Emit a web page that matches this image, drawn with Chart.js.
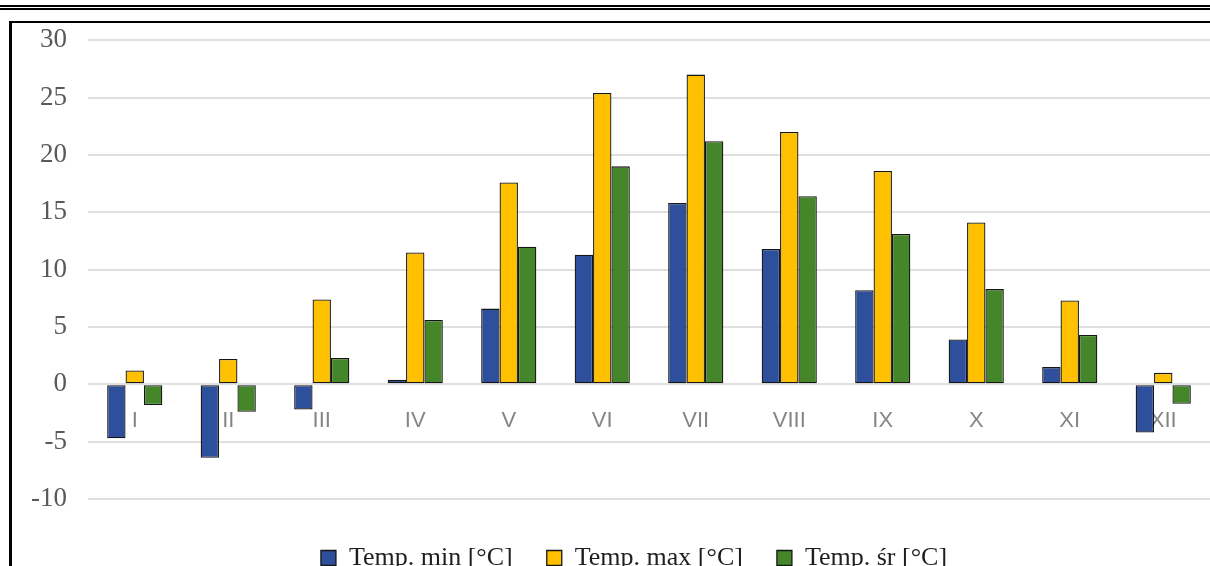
<!DOCTYPE html>
<html>
<head>
<meta charset="utf-8">
<script src="https://cdn.jsdelivr.net/npm/chart.js@4/dist/chart.umd.min.js"></script>
<style>
html,body{margin:0;padding:0;background:#fff;overflow:hidden;width:1210px;height:566px}
.rule1{position:absolute;left:0;top:5px;width:1210px;height:2px;background:#000}
.rule2{position:absolute;left:0;top:8px;width:1210px;height:2px;background:#000}
.frame{position:absolute;left:9px;top:21px;width:1300px;height:700px;border-left:3px solid #000;border-top:2px solid #000}
#wrap{position:absolute;left:12px;top:3px;width:1198px;height:566px}
</style>
</head>
<body>
<div class="rule1"></div>
<div class="rule2"></div>
<div class="frame"></div>
<div id="wrap"><canvas id="chart"></canvas></div>

<script>

const months = ["I","II","III","IV","V","VI","VII","VIII","IX","X","XI","XII"]

const tempMin = [-4.7, -6.4, -2.2, 0.4, 6.6, 11.3, 15.8, 11.8, 8.2, 3.9, 1.5, -4.2]
const tempMax = [1.2, 2.2, 7.4, 11.5, 17.6, 25.4, 27.0, 22.0, 18.6, 14.1, 7.3, 1.0]
const tempAvg = [-1.8, -2.4, 2.3, 5.6, 12.0, 19.0, 21.2, 16.4, 13.1, 8.3, 4.3, -1.7]

const seriesNames = ["Temp. min [°C]", "Temp. max [°C]", "Temp. śr [°C]"]

const yMin = -10
const yMax = 30
const yStep = 5


function barSet(label, values, color){
return {
label: label,
data: values,
backgroundColor: color,
borderColor: "#161616",
borderWidth: 1.3,
borderSkipped: false,
barPercentage: 1,
categoryPercentage: 0.59
}
}

// legend sits lower and a bit right of the canvas centre in the original
const legendShift = {
id: "legendShift",
afterLayout(chart){
chart.legend.left += 23
chart.legend.right += 23
chart.legend.top += 12
chart.legend.bottom += 12
}
}

const ctx = document.getElementById("chart").getContext("2d")

new Chart(ctx, {
type: "bar",
data: {
labels: months,
datasets: [
barSet(seriesNames[0], tempMin, "#2E4F9C"),
barSet(seriesNames[1], tempMax, "#FFC000"),
barSet(seriesNames[2], tempAvg, "#46862B")
]
},
plugins: [legendShift],
options: {
responsive: true,
maintainAspectRatio: false,
animation: false,
layout: {
padding: {top: 2, left: 0, right: 0, bottom: 0}
},
plugins: {
tooltip: {enabled: false},
legend: {
position: "bottom",
labels: {
color: "#1e1e1e",
font: {family: "Liberation Serif", size: 26},
boxWidth: 15,
boxHeight: 15,
padding: 34
}
}
},
scales: {
x: {
position: {y: 0},
grid: {display: false, drawTicks: false},
border: {display: false},
ticks: {
color: "#858585",
font: {family: "Liberation Sans", size: 22},
padding: 23,
maxRotation: 0,
autoSkip: false
}
},
y: {
min: yMin,
max: yMax,
grid: {color: "#e0e0e0", lineWidth: 2, drawTicks: false},
border: {display: false},
afterFit: function(scale){ scale.width = 76 },
ticks: {
stepSize: yStep,
color: "#595959",
font: {family: "Liberation Serif", size: 27},
padding: 21
}
}
}
}
})

</script>
</body>
</html>
